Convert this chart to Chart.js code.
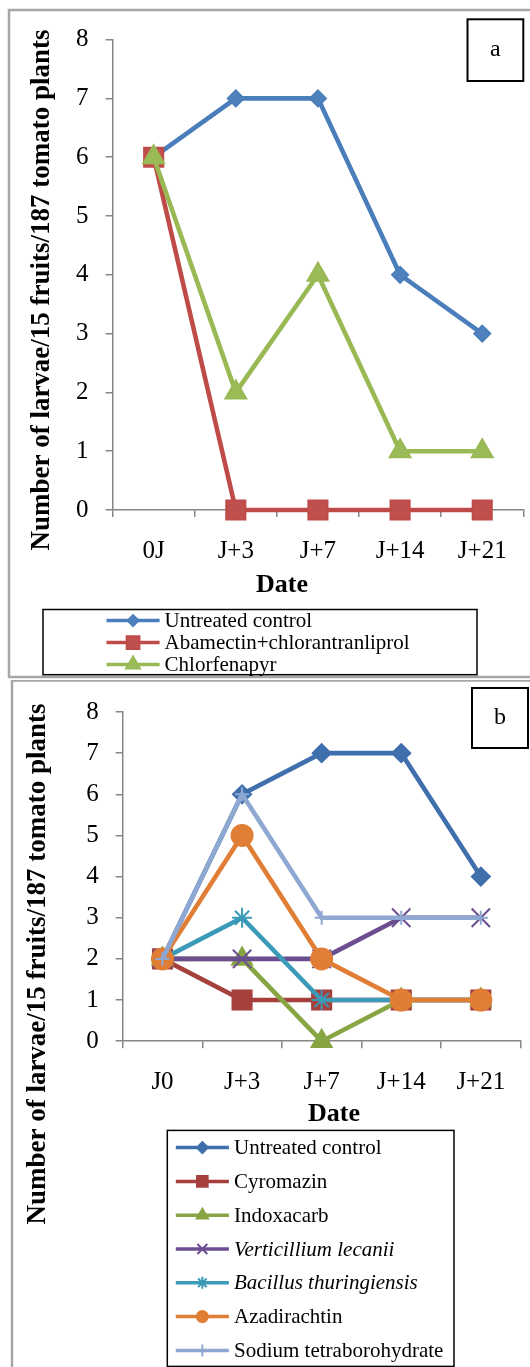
<!DOCTYPE html>
<html>
<head>
<meta charset="utf-8">
<script src="https://cdn.jsdelivr.net/npm/chart.js"></script>
<style>
  html, body { margin: 0; padding: 0; background: #fff; }
  #wrap { position: relative; width: 530px; height: 1367px; overflow: hidden; }
  .panel { position: absolute; left: 0; width: 530px; }
</style>
</head>
<body>
<div id="wrap">
  <div class="panel" style="top:0;height:680px"><canvas id="chartA" width="530" height="680"></canvas></div>
  <div class="panel" style="top:680px;height:687px"><canvas id="chartB" width="530" height="687"></canvas></div>
</div>
<script>
// --- data ---
const datesA = ['0J', 'J+3', 'J+7', 'J+14', 'J+21'];
const datesB = ['J0', 'J+3', 'J+7', 'J+14', 'J+21'];
const yTicks = [0, 1, 2, 3, 4, 5, 6, 7, 8];

const seriesA = ['Untreated control', 'Abamectin+chlorantranliprol', 'Chlorfenapyr'];
const untreatedA = [6, 7, 7, 4, 3];
const abamectinA = [6, 0, 0, 0, 0];
const chlorfenapyrA = [6, 2, 4, 1, 1];

const seriesB = ['Untreated control', 'Cyromazin', 'Indoxacarb', 'Verticillium lecanii',
  'Bacillus thuringiensis', 'Azadirachtin', 'Sodium tetraborohydrate'];
const untreatedB = [2, 6, 7, 7, 4];
const cyromazinB = [2, 1, 1, 1, 1];
const indoxacarbB = [2, 2, 0, 1, 1];
const verticilliumB = [2, 2, 2, 3, 3];
const bacillusB = [2, 3, 1, 1, 1];
const azadirachtinB = [2, 5, 2, 1, 1];
const sodiumB = [2, 6, 3, 3, 3];

// --- styles ---
const serif = "'Liberation Serif', 'Times New Roman', serif";
const axisGray = '#868686';
const italicB = [false, false, false, true, true, false, false];

const stylesA = [
  { line: '#4A7EBB', fill: '#4F81BD', shape: 'rectRot', r: 8, lr: 5.5 },
  { line: '#BE4B48', fill: '#C0504D', shape: 'rect', r: 13.5, lr: 9 },
  { line: '#98B954', fill: '#9BBB59', shape: 'triangle', r: 12, lr: 8 }
];
const stylesB = [
  { line: '#3F6FAC', fill: '#3F6FAC', shape: 'rectRot', r: 9, lr: 5.5 },
  { line: '#A5403D', fill: '#A5403D', shape: 'rect', r: 13.5, lr: 7.5 },
  { line: '#87A543', fill: '#87A543', shape: 'triangle', r: 11.5, lr: 6.5 },
  { line: '#6B4E90', fill: '#6B4E90', shape: 'crossRot', r: 13, lr: 7 },
  { line: '#3B9AB7', fill: '#3B9AB7', shape: 'star', r: 10, lr: 6 },
  { line: '#E07E36', fill: '#E07E36', shape: 'circle', r: 10.5, lr: 5.5 },
  { line: '#8EA8D2', fill: '#8EA8D2', shape: 'cross', r: 7, lr: 6 }
];

function makeSets(labels, values, styles) {
  return labels.map((lab, i) => ({
    label: lab,
    data: values[i],
    borderColor: styles[i].line,
    backgroundColor: styles[i].fill,
    borderWidth: 4.6,
    pointStyle: styles[i].shape,
    pointRadius: styles[i].r,
    pointHoverRadius: styles[i].r,
    pointBackgroundColor: styles[i].fill,
    pointBorderColor: styles[i].line,
    pointBorderWidth: 2,
    tension: 0,
    clip: false,
    order: labels.length - i
  }));
}

// draws the frame, title boxes, axis titles and the boxed legend
function decorate(p) {
  return {
    id: 'decor',
    afterDraw(chart) {
      const ctx = chart.ctx;
      ctx.save();
      // panel frame
      ctx.strokeStyle = '#a6a6a6';
      ctx.lineWidth = 2.5;
      ctx.strokeRect(p.frame[0], p.frame[1], p.frame[2], p.frame[3]);
      // letter box
      ctx.strokeStyle = '#000';
      ctx.lineWidth = 2;
      ctx.strokeRect(p.tag[0], p.tag[1], p.tag[2], p.tag[3]);
      ctx.fillStyle = '#000';
      ctx.textAlign = 'center';
      ctx.textBaseline = 'middle';
      ctx.font = '24px ' + serif;
      ctx.fillText(p.letter, p.tag[0] + p.tag[2] / 2, p.tag[1] + p.tag[3] / 2);
      // axis titles
      ctx.font = 'bold 26px ' + serif;
      ctx.fillText('Date', p.xTitle[0], p.xTitle[1]);
      ctx.save();
      ctx.translate(p.yTitle[0], p.yTitle[1]);
      ctx.rotate(-Math.PI / 2);
      ctx.font = 'bold 27px ' + serif;
      ctx.fillText('Number of larvae/15 fruits/187 tomato plants', 0, 0);
      ctx.restore();
      // legend
      ctx.strokeStyle = '#000';
      ctx.lineWidth = 1.5;
      ctx.strokeRect(p.legBox[0], p.legBox[1], p.legBox[2], p.legBox[3]);
      chart.data.datasets.forEach((ds, i) => {
        const y = p.legY + i * p.legStep;
        const st = p.styles[i];
        ctx.strokeStyle = st.line;
        ctx.lineWidth = 3.5;
        ctx.beginPath();
        ctx.moveTo(p.legX[0], y);
        ctx.lineTo(p.legX[1], y);
        ctx.stroke();
        ctx.fillStyle = st.fill;
        ctx.strokeStyle = st.line;
        ctx.lineWidth = 2;
        if (Chart.helpers && Chart.helpers.drawPoint) {
          Chart.helpers.drawPoint(ctx, { pointStyle: st.shape, radius: st.lr, borderWidth: 2, rotation: 0 },
            (p.legX[0] + p.legX[1]) / 2, y);
        }
        ctx.fillStyle = '#000';
        ctx.textAlign = 'left';
        ctx.textBaseline = 'middle';
        ctx.font = (p.italic && p.italic[i] ? 'italic ' : '') + '21px ' + serif;
        ctx.fillText(ds.label, p.legText, y + 1);
      });
      ctx.restore();
    }
  };
}

function makeOptions(yWidth, xHeight, pad) {
  return {
    responsive: false,
    animation: false,
    events: [],
    layout: { padding: pad, autoPadding: false },
    plugins: { legend: { display: false }, tooltip: { enabled: false } },
    scales: {
      x: {
        offset: true,
        grid: { offset: true, drawOnChartArea: false, drawTicks: true, tickLength: 7, color: axisGray, lineWidth: 1.5 },
        border: { color: axisGray, width: 1.5 },
        ticks: { color: '#000', font: { family: serif, size: 25 }, padding: 19, maxRotation: 0, autoSkip: false },
        afterFit(s) { s.height = xHeight; }
      },
      y: {
        min: yTicks[0],
        max: yTicks[yTicks.length - 1],
        grid: { drawOnChartArea: false, drawTicks: true, tickLength: 7, color: axisGray, lineWidth: 1.5 },
        border: { color: axisGray, width: 1.5 },
        ticks: { stepSize: 1, color: '#000', font: { family: serif, size: 25 }, padding: 17 },
        afterFit(s) { s.width = yWidth; }
      }
    }
  };
}

// panel a
new Chart(document.getElementById('chartA').getContext('2d'), {
  type: 'line',
  data: {
    labels: datesA,
    datasets: makeSets(seriesA, [untreatedA, abamectinA, chlorfenapyrA], stylesA)
  },
  options: makeOptions(112.6, 170, { left: 0, right: 6.7, top: 39.6, bottom: 0 }),
  plugins: [decorate({
    frame: [9, 10, 600, 667],
    tag: [467.5, 19.3, 55.8, 61.7],
    letter: 'a',
    xTitle: [282, 585],
    yTitle: [42.3, 290],
    legBox: [43, 609.5, 434, 65.2],
    legY: 620.6,
    legStep: 22,
    legX: [106.5, 159.6],
    legText: 164.6,
    styles: stylesA
  })]
});

// panel b
new Chart(document.getElementById('chartB').getContext('2d'), {
  type: 'line',
  data: {
    labels: datesB,
    datasets: makeSets(seriesB,
      [untreatedB, cyromazinB, indoxacarbB, verticilliumB, bacillusB, azadirachtinB, sodiumB], stylesB)
  },
  options: makeOptions(122.7, 325.8, { left: 0, right: 9.4, top: 17.6, bottom: 0 }),
  plugins: [decorate({
    frame: [12, 0.5, 600, 720],
    tag: [472, 8, 56, 60],
    letter: 'b',
    xTitle: [334, 434.5],
    yTitle: [37.9, 284],
    legBox: [167.3, 450.4, 286.7, 236],
    legY: 467.6,
    legStep: 33.8,
    legX: [175.8, 228.9],
    legText: 234,
    styles: stylesB,
    italic: italicB
  })]
});
</script>
</body>
</html>
